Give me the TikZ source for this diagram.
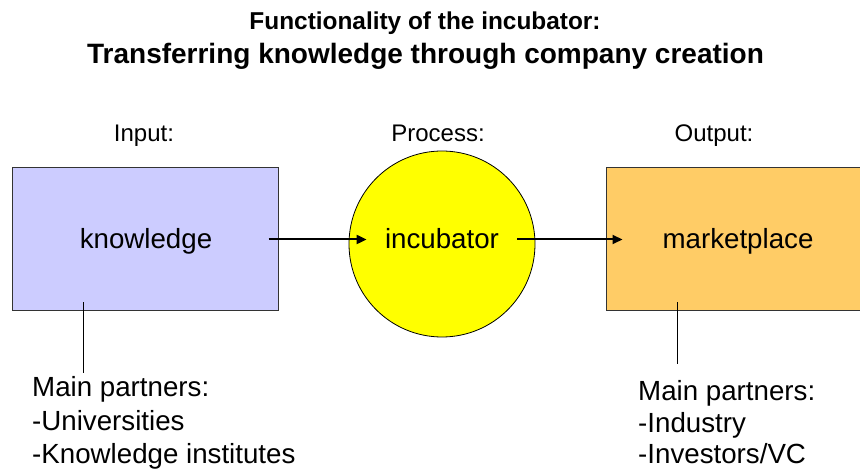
\documentclass[tikz,border=0pt]{standalone}
\usepackage{fontspec}
\setmainfont{Liberation Sans}
\usetikzlibrary{arrows.meta,calc}
\definecolor{kblue}{HTML}{CCCCFF}
\definecolor{myyellow}{HTML}{FFFF00}
\definecolor{morange}{HTML}{FFCC66}
\definecolor{edgegray}{HTML}{333333}
\tikzset{
  bigtext/.style={font=\fontsize{27.7}{33}\selectfont, inner sep=0pt, anchor=base},
  labeltext/.style={font=\fontsize{24}{28}\selectfont, inner sep=0pt, anchor=base},
  linetext/.style={font=\fontsize{27.7}{33}\selectfont, inner sep=0pt, anchor=base west},
  boxstyle/.style={draw=edgegray, line width=1pt, minimum width=266pt, minimum height=143pt, inner sep=0pt},
  circstyle/.style={circle, draw=black, line width=0.8pt, fill=myyellow, minimum size=186pt, inner sep=0pt},
  arr/.style={line width=2pt, -{Triangle[length=10pt,width=9pt]}},
  leader/.style={line width=0.9pt, black}
}
\begin{document}
\begin{tikzpicture}[x=1pt,y=-1pt]
\useasboundingbox (0,0) rectangle (860,470);
% titles
\node[font=\fontsize{24.4}{28}\bfseries\selectfont, inner sep=0pt, anchor=base] (t1) at (425,30) {Functionality of the incubator:};
\node[font=\fontsize{28}{32}\bfseries\selectfont, inner sep=0pt, anchor=base] (t2) at (425.5,64) {Transferring knowledge through company creation};
% labels
\node[labeltext] (lin) at (144,142) {Input:};
\node[labeltext] (lpr) at (438,142) {Process:};
\node[labeltext] (lout) at (714,142) {Output:};
% shapes
\node[boxstyle, fill=kblue] (kbox) at (145,239.5) {};
\node[bigtext] (ktext) at (146,249) {knowledge};
\node[circstyle] (inc) at (442,244) {};
\node[bigtext] (inctext) at (442,249) {incubator};
\node[boxstyle, fill=morange, minimum width=264pt] (mbox) at (738,239.5) {};
\node[bigtext] (mtext) at (738,249) {marketplace};
% arrows
\coordinate (a1s) at ($(kbox.east)+(-10,0)$);
\coordinate (a1e) at ($(inc.west |- kbox.east)+(18,0)$);
\coordinate (a2s) at ($(inc.east |- kbox.east)+(-18,0)$);
\coordinate (a2e) at ($(mbox.west)+(17,0)$);
\draw[arr] (a1s) -- (a1e);
\draw[arr] (a2s) -- (a2e);
% partner texts
\node[linetext] (lp1) at (32,397) {Main partners:};
\node[linetext] (lp2) at (32,430.5) {-Universities};
\node[linetext] (lp3) at (32,463.5) {-Knowledge institutes};
\node[linetext] (rp1) at (638,400) {Main partners:};
\node[linetext] (rp2) at (638,432) {-Industry};
\node[linetext] (rp3) at (638,464) {-Investors/VC};
% leaders
\coordinate (l1s) at ($(kbox.south)+(-62,-9)$);
\coordinate (l1e) at (l1s |- 0,373);
\coordinate (l2s) at ($(mbox.south)+(-61,-9)$);
\coordinate (l2e) at (l2s |- 0,364);
\draw[leader] (l1s) -- (l1e);
\draw[leader] (l2s) -- (l2e);
\end{tikzpicture}
\end{document}
